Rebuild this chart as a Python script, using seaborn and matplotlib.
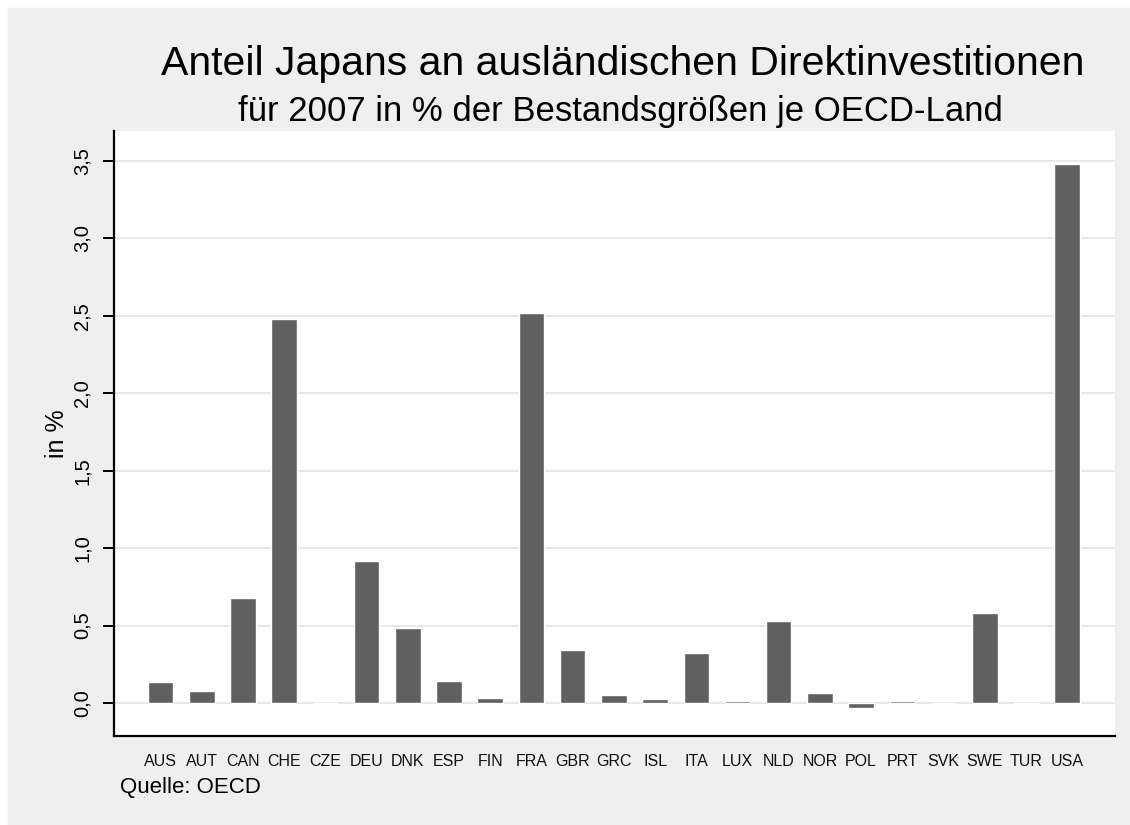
import matplotlib
matplotlib.use("Agg")
import matplotlib.pyplot as plt
from matplotlib.patches import Rectangle
from matplotlib.ticker import FuncFormatter, MultipleLocator
import seaborn as sns
import pandas as pd

# Anteil Japans an FDI-Bestaenden je OECD-Land, 2007 (in %)
countries = ["AUS", "AUT", "CAN", "CHE", "CZE", "DEU", "DNK", "ESP", "FIN", "FRA",
             "GBR", "GRC", "ISL", "ITA", "LUX", "NLD", "NOR", "POL", "PRT", "SVK",
             "SWE", "TUR", "USA"]
share = [0.135, 0.075, 0.68, 2.48, 0.0, 0.915, 0.485, 0.145, 0.035, 2.52,
         0.345, 0.05, 0.028, 0.32, 0.012, 0.527, 0.062, -0.03, 0.012, 0.0,
         0.58, 0.0, 3.48]

df = pd.DataFrame({"Land": countries, "Anteil": share})

sns.set_style("white")
plt.rcParams["font.family"] = ["Liberation Sans", "DejaVu Sans"]
plt.rcParams["text.color"] = "black"
plt.rcParams["axes.labelcolor"] = "black"

fig = plt.figure(figsize=(11.3, 8.25), dpi=100, facecolor="white")
# grauer Hintergrund wie bei Stata
fig.patches.append(Rectangle((8 / 1130, 0), 1, 1 - 8 / 825, transform=fig.transFigure,
                             color="#efefef", zorder=-10))
ax = fig.add_axes([114 / 1130, 1 - 736 / 825, (1115 - 114) / 1130, (736 - 131) / 825])
ax.set_facecolor("white")

sns.barplot(data=df, x="Land", y="Anteil", color="#606060", saturation=1,
            width=0.62, ax=ax, zorder=3)

ax.set_xlim(-1.13, len(countries) - 1 + 1.16)
ax.set_ylim(-0.213, 3.694)
ax.yaxis.set_major_locator(MultipleLocator(0.5))
ax.yaxis.set_major_formatter(FuncFormatter(lambda v, p: f"{v:.1f}".replace(".", ",")))
ax.grid(axis="y", color="#e6e6e6", linewidth=1.3, zorder=0)
ax.set_axisbelow(True)

for s in ["top", "right"]:
    ax.spines[s].set_visible(False)
for s in ["left", "bottom"]:
    ax.spines[s].set_color("black")
    ax.spines[s].set_linewidth(1.6)

ax.tick_params(axis="y", direction="out", length=8, width=1.4, color="black",
               labelcolor="black", labelsize=14.5, pad=8, left=True)
ax.tick_params(axis="x", length=0, labelsize=11.5, pad=13, labelcolor="#111111")
plt.setp(ax.get_yticklabels(), rotation=90, va="center")

ax.set_xlabel("")
ax.set_ylabel("in %", fontsize=18, labelpad=3)

fig.text(623 / 1130, 1 - 75 / 825, "Anteil Japans an ausländischen Direktinvestitionen",
         ha="center", va="baseline", fontsize=29.5)
fig.text(620 / 1130, 1 - 121 / 825, "für 2007 in % der Bestandsgrößen je OECD-Land",
         ha="center", va="baseline", fontsize=25)
fig.text(120 / 1130, 1 - 793 / 825, "Quelle: OECD", ha="left", va="baseline", fontsize=16)

fig.savefig("out.png", dpi=100, facecolor=fig.get_facecolor())
